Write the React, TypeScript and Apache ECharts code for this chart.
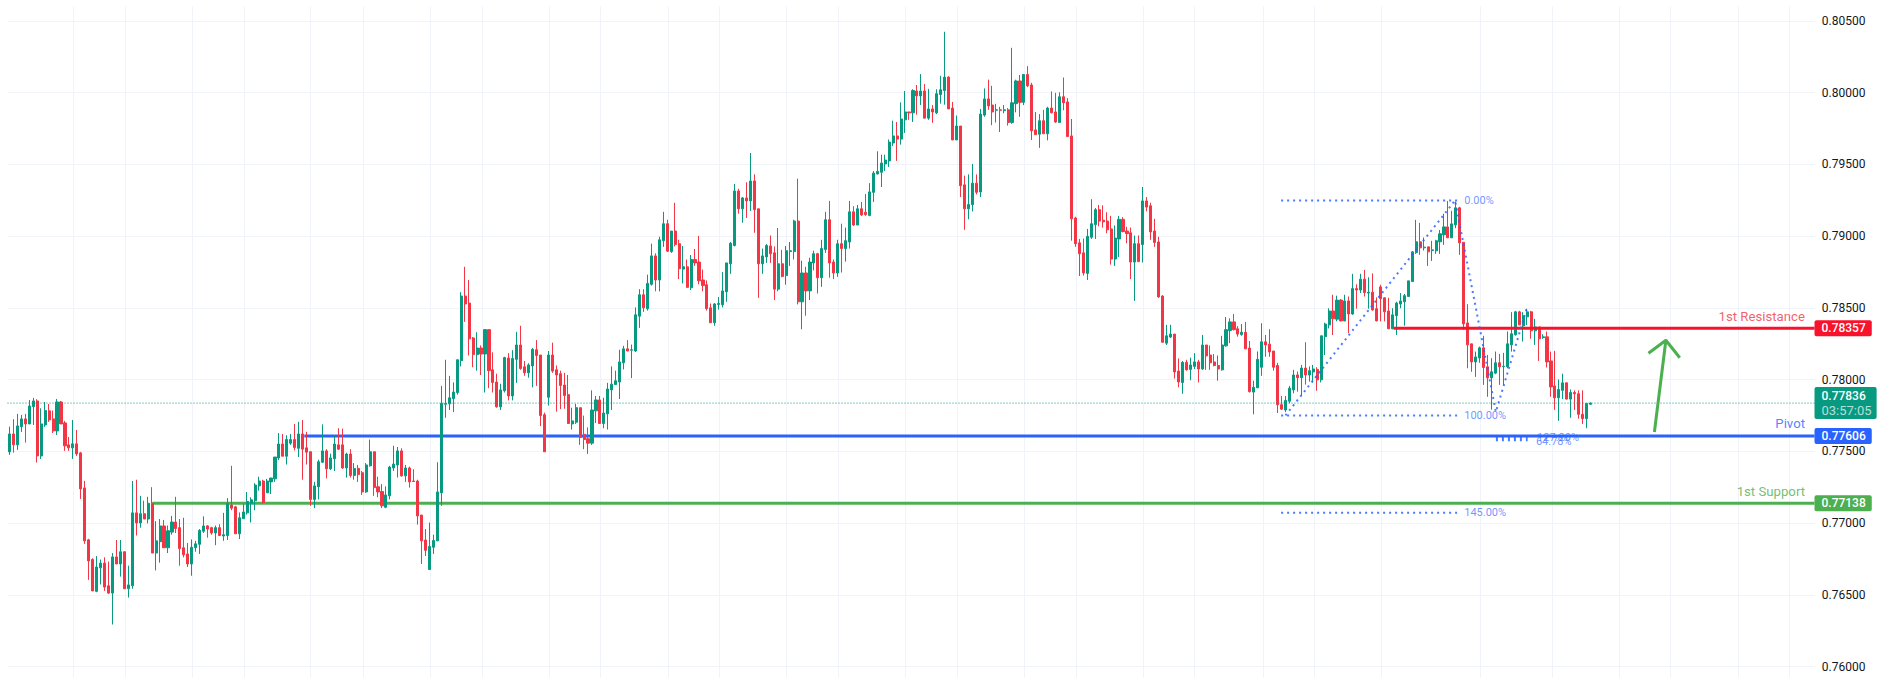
import { useEffect, useRef } from "react";
import * as echarts from "echarts";

type Bar = [number, number, number, number]; // open, close, low, high, in 0.00001 units

const slideAndBase: Bar[] = [
  [77496,77621,77475,77672],[77621,77545,77491,77724],[77545,77677,77510,77761],[77672,77726,77635,77754],[77726,77691,77561,77761],
  [77691,77816,77691,77858],[77812,77851,77684,77872],[77851,77468,77422,77863],[77468,77691,77447,77800],[77684,77784,77670,77844],
  [77782,77719,77705,77830],[77726,77642,77628,77784],[77642,77844,77614,77865],[77844,77691,77691,77851],[77698,77538,77503,77712],
  [77545,77524,77503,77600],[77524,77552,77447,77719],[77552,77482,77468,77649],[77489,77238,77168,77496],[77245,76876,76855,77294],
  [76883,76736,76604,76890],[76746,76527,76527,76755],[76524,76694,76518,76770],[76688,76721,76572,76746],[76721,76554,76527,76761],
  [76563,76512,76506,76731],[76512,76764,76293,76791],[76764,76715,76715,76882],[76715,76800,76627,76882],[76800,76542,76542,76800],
  [76542,76569,76481,76703],[76563,77071,76542,77293],[77071,77001,76913,77302],[77001,77065,76968,77190],[77065,77028,77028,77156],
  [77028,77138,76998,77183],[77138,76791,76791,77250],[76791,76876,76670,77013],[76870,76980,76724,77028],[76980,76828,76828,77022],
  [76828,76946,76791,76983],[76937,77007,76919,77050],[77007,76962,76931,77183],[76968,76822,76703,77028],[76828,76779,76761,77037],
  [76785,76715,76694,76861],[76715,76831,76633,76886],
];

const firstRange: Bar[] = [
  [76828,76855,76800,76876],[76852,76949,76785,76958],[76943,76980,76931,77047],[76980,76958,76898,76986],[76968,76931,76919,76974],
  [76931,76968,76846,76983],[76968,76913,76913,76992],[76910,76919,76876,77071],[76913,77135,76882,77174],[77126,77104,77089,77399],
  [77113,76925,76925,77120],[76925,77037,76889,77074],[77031,77077,77028,77135],[77071,77150,77059,77217],[77138,77162,77004,77180],
  [77156,77265,77089,77278],[77259,77293,77226,77323],[77293,77144,77135,77302],[77211,77293,77211,77308],[77287,77314,77202,77314],
  [77308,77460,77287,77460],[77454,77551,77439,77627],[77551,77466,77466,77621],[77466,77582,77408,77612],[77557,77582,77545,77621],
  [77582,77527,77506,77691],[77521,77621,77460,77706],[77621,77515,77302,77718],[77524,77494,77408,77636],[77497,77165,77120,77497],
  [77165,77259,77104,77287],[77253,77427,77165,77442],[77424,77503,77418,77688],[77503,77378,77311,77515],[77378,77454,77369,77484],
  [77448,77551,77363,77606],[77545,77515,77509,77661],[77545,77384,77378,77658],[77384,77481,77317,77490],[77481,77332,77317,77515],
  [77332,77381,77302,77418],[77381,77338,77287,77405],[77351,77217,77196,77363],[77217,77405,77211,77418],[77399,77497,77393,77582],
  [77497,77247,77190,77497],[77253,77217,77180,77323],[77220,77120,77104,77272],[77110,77196,77104,77256],[77190,77390,77165,77399],
  [77384,77411,77363,77539],[77405,77503,77317,77530],[77503,77329,77323,77521],[77329,77384,77287,77405],[77384,77287,77247,77393],
  [77293,77290,77290,77375],[77293,77050,76989,77302],[77056,76876,76715,77056],[76882,76810,76770,76958],[76676,76837,76676,77004],
  [76831,76879,76785,76919],[76876,77217,76876,77424],
];

const breakoutLeg: Bar[] = [
  [77211,77834,77120,77956],[77828,77834,77734,78138],[77831,77873,77788,78026],[77867,77913,77773,77980],[77910,78138,77895,78138],
  [78132,78582,78092,78609],[78582,78527,78402,78786],[78533,78284,78168,78694],[78290,78174,78086,78296],[78174,78220,78062,78330],
  [78220,78178,78032,78238],[78178,78348,77910,78351],[78348,78062,77940,78348],[78068,77980,77910,78190],[77983,77810,77804,78041],
  [77810,77928,77788,77971],[77922,78153,77910,78159],[78150,77886,77855,78184],[77886,78147,77855,78205],[78141,78241,77977,78333],
  [78241,78077,78068,78375],[78089,78047,78026,78129],[78047,78102,78013,78114],[78095,78211,77946,78220],[78208,78168,77956,78275],
  [78171,77749,77676,78171],[77755,77497,77497,77770],[77877,78171,77819,78199],[78171,78059,78047,78257],[78068,78032,77776,78098],
  [78041,77959,77794,78062],[77962,77889,77797,78047],[77895,77694,77691,78032],[77691,77712,77652,77804],[77703,77804,77691,77831],
  [77804,77597,77545,77804],[77618,77582,77515,77749],[77588,77557,77481,77667],[77557,77788,77545,77925],[77782,77858,77697,77886],
  [77858,77694,77691,77886],[77694,77767,77661,77873],[77761,77934,77652,77977],[77928,77968,77788,78092],[77965,77992,77965,78062],
  [77983,78123,77864,78208],[78117,78214,78071,78235],[78214,78199,78199,78275],[78205,78208,78010,78244],[78199,78451,78193,78503],
  [78442,78591,78360,78630],
];

const climbToPeak: Bar[] = [
  [78591,78500,78472,78630],[78494,78670,78481,78731],[78664,78862,78655,78947],[78862,78694,78615,78880],[78694,78974,78615,78995],
  [78968,79086,78925,79169],[79086,78895,78889,79114],[78892,79035,78883,79035],[79035,78941,78928,79232],[78947,78773,78700,78974],
  [78770,78786,78670,78931],[78786,78643,78640,78837],[78640,78837,78624,78868],[78837,78813,78792,78910],[78819,78688,78664,79001],
  [78694,78655,78615,78767],[78661,78494,78481,78691],[78500,78396,78396,78530],[78396,78527,78375,78533],[78524,78530,78488,78576],
  [78521,78618,78503,78749],[78612,78813,78542,78813],[78807,78950,78737,78959],[78934,79314,78928,79363],[79314,79190,79156,79330],
  [79190,79266,79093,79272],[79266,79245,79126,79375],[79245,79384,79175,79579],[79384,79184,79023,79430],[79190,78807,78570,79190],
  [78807,78862,78737,78913],[78855,78934,78813,78944],[78931,78877,78813,79004],[78883,78630,78554,78928],[78630,78807,78615,79056],
  [78807,78719,78713,78904],[78725,78898,78661,78931],[78892,78898,78792,78959],[78892,79105,78837,79114],[79105,78542,78524,79400],
  [78542,78743,78351,78828],[78743,78618,78445,78786],[78618,78819,78554,78849],[78813,78877,78761,78898],[78877,78710,78600,78883],
  [78710,78913,78646,78974],[78907,79114,78883,79169],[79114,78813,78710,79245],[78819,78743,78700,78837],[78743,78947,78716,78974],
  [78947,78913,78746,79086],[78913,78968,78822,79059],[78959,79169,78913,79245],[79169,79077,79071,79208],[79077,79190,79077,79217],
  [79190,79147,79141,79238],[79166,79150,79141,79293],[79144,79308,79138,79369],[79305,79439,79238,79454],[79433,79451,79430,79591],
  [79445,79509,79342,79567],[79503,79530,79454,79567],[79524,79655,79482,79673],[79649,79698,79628,79804],[79698,79676,79524,79795],
  [79676,79816,79637,79932],[79810,79865,79719,80011],[79865,79859,79810,79865],[79859,80014,79795,80023],[80011,79977,79846,80053],
  [79977,80011,79913,80129],[80011,79822,79822,80059],[79822,79886,79810,80026],[79886,79865,79789,79913],[79859,79992,79850,80023],
  [79986,80020,79923,80117],[80014,80108,79916,80424],
];

const topAndDrop: Bar[] = [
  [80108,79886,79886,80114],[79892,79670,79670,79935],[79670,79767,79670,79840],[79767,79351,79272,79767],[79357,79190,79044,79421],
  [79190,79220,79117,79430],[79220,79369,79172,79503],[79369,79305,79290,79430],[79308,79850,79272,79886],[79843,79956,79831,80029],
  [79956,79907,79880,80090],[79913,79865,79773,80047],[79877,79880,79792,79922],[79880,79877,79725,79901],[79874,79880,79856,79913],
  [79880,79792,79770,79892],[79792,79929,79783,80312],[79923,80081,79862,80090],[80081,79932,79831,80123],[79932,80126,79913,80129],
  [80126,80047,80038,80184],[80053,79734,79670,80068],[79740,79707,79707,79865],[79710,79804,79615,79850],[79804,79713,79713,79880],
  [79713,79892,79667,79901],[79892,79859,79856,80008],[79865,79795,79789,79998],[79792,79971,79789,80002],[79971,79929,79877,80105],
  [79935,79694,79691,79962],[79698,79120,78968,79816],[79126,78947,78925,79135],[78953,78877,78722,78980],[78883,78743,78725,78983],
  [78740,78998,78694,79050],[78992,79086,78980,79257],[79080,79184,78980,79196],[79184,79105,79068,79217],[79111,79099,79059,79214],
  [79105,79044,79020,79166],[79050,78840,78801,79141],[78840,78986,78792,79074],[78980,79117,78855,79141],[79117,79032,79026,79132],
  [79035,79017,78950,79065],[79023,78819,78700,79059],[78819,78947,78548,79004],[78947,78822,78819,79004],[78941,79245,78816,79342],
  [79245,79202,79172,79272],[79211,79029,78974,79232],[79035,78956,78925,79120],[78959,78576,78570,78995],[78582,78260,78260,78588],
];

const lowerRange: Bar[] = [
  [78254,78305,78241,78381],[78296,78317,78290,78381],[78317,78053,78007,78317],[78059,77983,77946,78147],[77980,78120,77901,78129],
  [78120,78068,78062,78138],[78071,78102,77995,78153],[78092,78123,78074,78184],[78123,78074,77980,78138],[78074,78241,78068,78311],
  [78241,78165,78068,78241],[78171,78117,78068,78238],[78123,78098,78092,78178],[78098,78074,77992,78168],[78068,78241,78062,78305],
  [78235,78348,78229,78436],[78342,78402,78254,78427],[78402,78348,78342,78457],[78354,78317,78299,78372],[78314,78330,78305,78387],
  [78330,78214,78214,78402],[78220,77916,77910,78269],[77913,77946,77758,77992],[77943,78141,77940,78196],[78086,78263,78026,78393],
  [78263,78241,78159,78311],[78247,78193,78159,78351],[78199,78086,78062,78199],[78098,77825,77767,78117],[77825,77794,77788,77886],
  [77788,77855,77773,77886],[77849,77940,77834,77956],[77928,78032,77904,78068],[78032,78013,77916,78056],[78013,78080,77889,78102],
  [78080,78032,77965,78260],[78032,78062,77986,78092],[78053,78074,77980,78102],[78071,77998,77922,78086],
];

const fibLeg: Bar[] = [
  [77998,78305,77980,78305],[78299,78387,78171,78396],[78381,78478,78357,78497],[78478,78424,78311,78591],[78421,78554,78406,78585],
  [78554,78409,78406,78561],[78409,78548,78406,78591],[78548,78457,78323,78579],[78457,78634,78451,78737],[78634,78624,78494,78664],
  [78624,78700,78603,78737],[78700,78606,78579,78764],[78603,78609,78494,78713],[78609,78485,78481,78740],[78494,78409,78406,78573],
  [78646,78564,78406,78661],[78570,78472,78406,78573],[78478,78354,78354,78570],[78354,78451,78351,78497],[78445,78533,78311,78542],
  [78527,78548,78497,78603],[78542,78585,78375,78597],[78579,78688,78579,78688],[78683,78890,78683,78895],[78885,78960,78876,79113],
  [78960,78918,78869,79092],[78918,78923,78899,78990],[78925,78890,78792,78925],[78899,78904,78827,78967],[78897,78967,78876,78974],
  [78960,79016,78876,79043],[79009,79064,78939,79155],[79064,78988,78988,79245],[78988,79085,78988,79176],[79078,79197,79055,79241],
  [79197,78953,78869,79204],
];

const lastBars: Bar[] = [
  [78957,78388,78347,78957],[78395,78242,78079,78525],[78249,78123,78054,78249],[78123,78158,78019,78195],[78151,78221,78117,78230],
  [78221,78084,77963,78305],[78089,78012,77880,78172],[78012,78054,77790,78149],[78045,78117,78038,78195],[78117,78089,77963,78179],
  [78089,78093,77963,78186],[78089,78249,78079,78335],[78242,78319,78195,78470],[78312,78472,78307,78479],[78472,78381,78381,78479],
  [78374,78444,78265,78470],[78437,78472,78381,78493],[78472,78340,78284,78479],[78340,78367,78242,78423],[78367,78284,78130,78367],
  [78293,78298,78284,78316],[78298,78123,78084,78335],[78130,77949,77880,78195],[77956,77873,77789,78200],[77873,77931,77712,78001],
  [77925,77977,77864,78041],[77977,77864,77861,77980],[77864,77910,77734,77931],[77910,77901,77788,77925],[77901,77758,77728,77925],
  [77758,77728,77691,77925],[77728,77834,77661,77834],[77828,77836,77825,77840],
];

const yTicks = [0.76, 0.765, 0.77, 0.775, 0.78, 0.785, 0.79, 0.795, 0.8, 0.805];
const gridBars = [16.2, 29.1, 46, 59.2, 76, 89.2, 106.1, 119.2, 136.2, 149.1, 166.2, 179.1, 196, 209.2, 226.1, 239.2, 256.2, 269.1, 286.2, 299.1, 316.3, 329.2, 346.1, 371.2, 389.4, 406.3, 419.1, 436.3, 449.1];

const lastPrice = 0.77836;
const countdown = "03:57:05";
const resistance = 0.78357;
const pivot = 0.77606;
const support = 0.77138;

// bar index, price
const zigzag = [[322, 0.7775], [364.8, 0.79248], [375.1, 0.77775], [383, 0.78505]];
const fibLevels = [
  { from: 320.9, to: 365.3, price: 0.79248, width: 2 },
  { from: 320.9, to: 365.3, price: 0.77749, width: 2 },
  { from: 320.9, to: 365.3, price: 0.77071, width: 2 },
  { from: 375.1, to: 383.1, price: 0.77587, width: 5 },
];
const fibLabels = [
  { text: "0.00%", bar: 367.1, price: 0.79248 },
  { text: "100.00%", bar: 367.1, price: 0.77749 },
  { text: "145.00%", bar: 367.1, price: 0.77071 },
  { text: "127.20%", bar: 385.5, price: 0.77599 },
  { text: "64.78%", bar: 385.2, price: 0.77569 },
];
const levelNames = [
  { text: "1st Resistance", price: 0.78443, color: "#f23645" },
  { text: "Pivot", price: 0.77691, color: "#2962ff" },
  { text: "1st Support", price: 0.77219, color: "#4caf50" },
];
const arrowShaft = [[415.1, 0.77635], [418, 0.78274]];
const arrowHead = [[413.6, 0.78183], [418, 0.78274], [421.5, 0.78152]];

const FONT = "Roboto";
const UP = "#089981";
const DOWN = "#f23645";

export default function App() {
  const chartRef = useRef<HTMLDivElement>(null);

  useEffect(() => {
    if (!chartRef.current) return;
    const myChart = echarts.init(chartRef.current, undefined, { renderer: "svg" });

    const bars = [
      ...slideAndBase,
      ...firstRange,
      ...breakoutLeg,
      ...climbToPeak,
      ...topAndDrop,
      ...lowerRange,
      ...fibLeg,
      ...lastBars,
    ];
    const totalBars = 456;
    const categories = Array.from({ length: totalBars }, (_, i) => String(i));
    const xMin = -0.5;
    const xMax = totalBars - 0.5;

    const level = (from: number, price: number, color: string, z: number, bg: string) => ({
      type: "line",
      xAxisIndex: 1,
      z,
      showSymbol: false,
      silent: true,
      lineStyle: { color, width: 3 },
      data: [[from, price], [xMax, price]],
      endLabel: {
        show: true,
        formatter: () => price.toFixed(5),
        distance: 0,
        color: "#fff",
        backgroundColor: bg,
        padding: [2, 6, 2, 7],
        borderRadius: 2,
        fontFamily: FONT,
        fontSize: 12,
        fontWeight: 500,
      },
    });

    const dotted = (data: number[][], width = 2) => ({
      type: "line",
      xAxisIndex: 1,
      z: 5,
      showSymbol: false,
      silent: true,
      lineStyle: { color: "#2962ff", width, type: [2, 4], opacity: 0.85 },
      data,
    });

    const option = {
      animation: false,
      backgroundColor: "#ffffff",
      grid: { left: 7.5, right: 68.5, top: 6.5, bottom: 6.4 },
      xAxis: [
        {
          type: "category",
          data: categories,
          axisLine: { show: false },
          axisTick: { show: false },
          axisLabel: { show: false },
          splitLine: { show: false },
        },
        {
          type: "value",
          min: xMin,
          max: xMax,
          axisLine: { show: false },
          axisTick: { show: false, customValues: gridBars },
          axisLabel: { show: false, customValues: gridBars },
          splitLine: { show: true, lineStyle: { color: "#f0f3fa", width: 1 } },
        },
      ],
      yAxis: {
        type: "value",
        position: "right",
        min: 0.75923,
        max: 0.806,
        axisLine: { show: false },
        axisTick: { show: false, customValues: yTicks },
        axisLabel: {
          customValues: yTicks,
          margin: 7.3,
          padding: [2, 0, 0, 0],
          color: "#131722",
          fontFamily: FONT,
          fontSize: 12,
          formatter: (v: number) => v.toFixed(5),
        },
        splitLine: { show: true, lineStyle: { color: "#f0f3fa", width: 1 } },
      },
      series: [
        level(36.05, support, "#4caf50", 2, "#4caf50"),
        level(74.4, pivot, "#2962ff", 2, "#2962ff"),
        {
          type: "candlestick",
          z: 3,
          silent: true,
          barWidth: 2.6,
          itemStyle: { color: UP, color0: DOWN, borderColor: UP, borderColor0: DOWN, borderWidth: 1 },
          data: bars.map((b) => b.map((v) => v / 100000)),
        },
        level(349.3, resistance, "#f7132b", 4, "#f7132b"),
        {
          type: "line",
          xAxisIndex: 1,
          z: 4,
          showSymbol: false,
          silent: true,
          lineStyle: { color: UP, width: 1, type: [1, 2] },
          data: [[xMin, lastPrice], [xMax, lastPrice]],
          endLabel: {
            show: true,
            distance: 0,
            backgroundColor: UP,
            padding: [2, 5, 2, 7],
            borderRadius: 2,
            formatter: () => `{p|${lastPrice.toFixed(5)}}\n{t|${countdown}}`,
            rich: {
              p: { color: "#fff", fontFamily: FONT, fontSize: 12, fontWeight: 500, lineHeight: 14 },
              t: { color: "rgba(255,255,255,0.7)", fontFamily: FONT, fontSize: 13, lineHeight: 14 },
            },
          },
        },
        dotted(zigzag),
        ...fibLevels.map((f) => dotted([[f.from, f.price], [f.to, f.price]], f.width)),
        {
          type: "scatter",
          xAxisIndex: 1,
          z: 6,
          silent: true,
          symbolSize: 0,
          data: fibLabels.map((f) => ({
            value: [f.bar, f.price],
            label: {
              show: true,
              position: "right",
              distance: 0,
              formatter: f.text,
              color: "rgba(41,98,255,0.85)",
              fontFamily: FONT,
              fontSize: 11,
            },
          })),
        },
        {
          type: "scatter",
          xAxisIndex: 1,
          z: 6,
          silent: true,
          symbolSize: 0,
          data: levelNames.map((n) => ({
            value: [453.1, n.price],
            label: {
              show: true,
              position: "left",
              distance: 0,
              formatter: n.text,
              color: n.color,
              fontFamily: FONT,
              fontSize: 13.2,
            },
          })),
        },
        {
          type: "line",
          xAxisIndex: 1,
          z: 6,
          showSymbol: false,
          silent: true,
          lineStyle: { color: "#4caf50", width: 3 },
          data: arrowShaft,
        },
        {
          type: "line",
          xAxisIndex: 1,
          z: 6,
          showSymbol: false,
          silent: true,
          lineStyle: { color: "#4caf50", width: 3 },
          data: arrowHead,
        },
      ],
    };

    myChart.setOption(option);

    return () => {
      myChart.dispose();
    };
  }, []);

  return (
    <div
      ref={chartRef}
      style={{ position: "fixed", left: 0, top: 0, width: "1883px", height: "684px" }}
    />
  );
}
